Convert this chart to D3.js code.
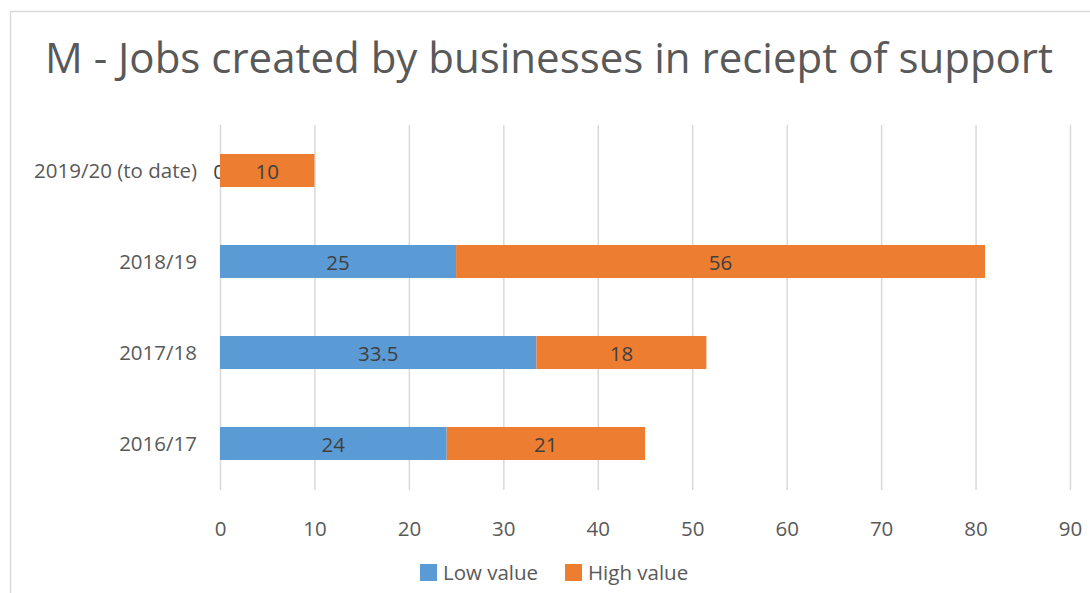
<!DOCTYPE html>
<html><head><meta charset="utf-8">
<script src="https://cdn.jsdelivr.net/npm/d3@7"></script>
<style>body{margin:0;background:#fff;} text{font-family:"Open Sans", sans-serif;}</style>
</head><body>
<svg id="c" width="1090" height="593"></svg>
<script>
const categories = ["2019/20 (to date)", "2018/19", "2017/18", "2016/17"];
const lowValues = [0, 25, 33.5, 24];
const highValues = [10, 56, 18, 21];
const xTicks = [0, 10, 20, 30, 40, 50, 60, 70, 80, 90];
const seriesNames = ["Low value", "High value"];
const colors = ["#5B9BD5", "#ED7D31"];
const FONT = "'Open Sans', sans-serif";
const LS = 20.5;

const svg = d3.select("#c");
svg.append("rect").attr("x", 10.5).attr("y", 11.5).attr("width", 1100).attr("height", 600)
  .attr("fill", "#fff").attr("stroke", "#d9d9d9").attr("stroke-width", 1.5);

svg.append("text").attr("x", 549).attr("y", 73).attr("text-anchor", "middle")
  .attr("font-size", 42).attr("fill", "#595959")
  .text("M - Jobs created by businesses in reciept of support");

const x = d3.scaleLinear().domain([0, 90]).range([220, 1070]);
const y = d3.scaleBand().domain(categories).range([125, 489]).paddingInner(0).paddingOuter(0);
const barH = y.bandwidth() * 0.363;

svg.append("g").selectAll("line").data(xTicks).join("line")
  .attr("x1", d => x(d) + 0.5).attr("x2", d => x(d) + 0.5)
  .attr("y1", 125).attr("y2", 490)
  .attr("stroke", "#d9d9d9").attr("stroke-width", 1.5);

const xAxis = d3.axisBottom(x).tickValues(xTicks).tickSize(0).tickPadding(0);
const gx = svg.append("g").attr("transform", "translate(0,536)").call(xAxis);
gx.select(".domain").remove();
gx.selectAll("text").attr("font-size", LS).attr("fill", "#595959").attr("dy", 0)
  .style("font-family", FONT);

const yAxis = d3.axisLeft(y).tickSize(0).tickPadding(0);
const gy = svg.append("g").attr("transform", "translate(197,0)").call(yAxis);
gy.select(".domain").remove();
gy.selectAll("text").attr("font-size", LS).attr("fill", "#595959").attr("dy", "0.35em")
  .style("font-family", FONT);

const rows = categories.map((c, i) => ({cat: c, low: lowValues[i], high: highValues[i]}));
const stacked = d3.stack().keys(["low", "high"])(rows);

stacked.forEach((s, si) => {
  const g = svg.append("g");
  g.selectAll("rect").data(s).join("rect")
    .attr("x", d => x(d[0])).attr("width", d => x(d[1]) - x(d[0]))
    .attr("y", d => y(d.data.cat) + (y.bandwidth() - barH) / 2).attr("height", barH)
    .attr("fill", colors[si]);
  g.selectAll("text").data(s).join("text")
    .attr("x", d => (x(d[0]) + x(d[1])) / 2 - (d[1] - d[0] === 0 ? 1 : 0))
    .attr("y", d => y(d.data.cat) + y.bandwidth() / 2 + 1).attr("dy", "0.35em")
    .attr("text-anchor", "middle").attr("font-size", LS).attr("fill", "#404040")
    .text(d => d[1] - d[0]);
});

const legend = svg.append("g").attr("transform", "translate(420,564)");
const lx = [0, 145];
seriesNames.forEach((n, i) => {
  legend.append("rect").attr("x", lx[i]).attr("y", 0).attr("width", 17).attr("height", 17).attr("fill", colors[i]);
  legend.append("text").attr("x", lx[i] + 23).attr("y", 9).attr("dy", "0.35em")
    .attr("font-size", LS).attr("fill", "#595959").text(n);
});
</script>
</body></html>
